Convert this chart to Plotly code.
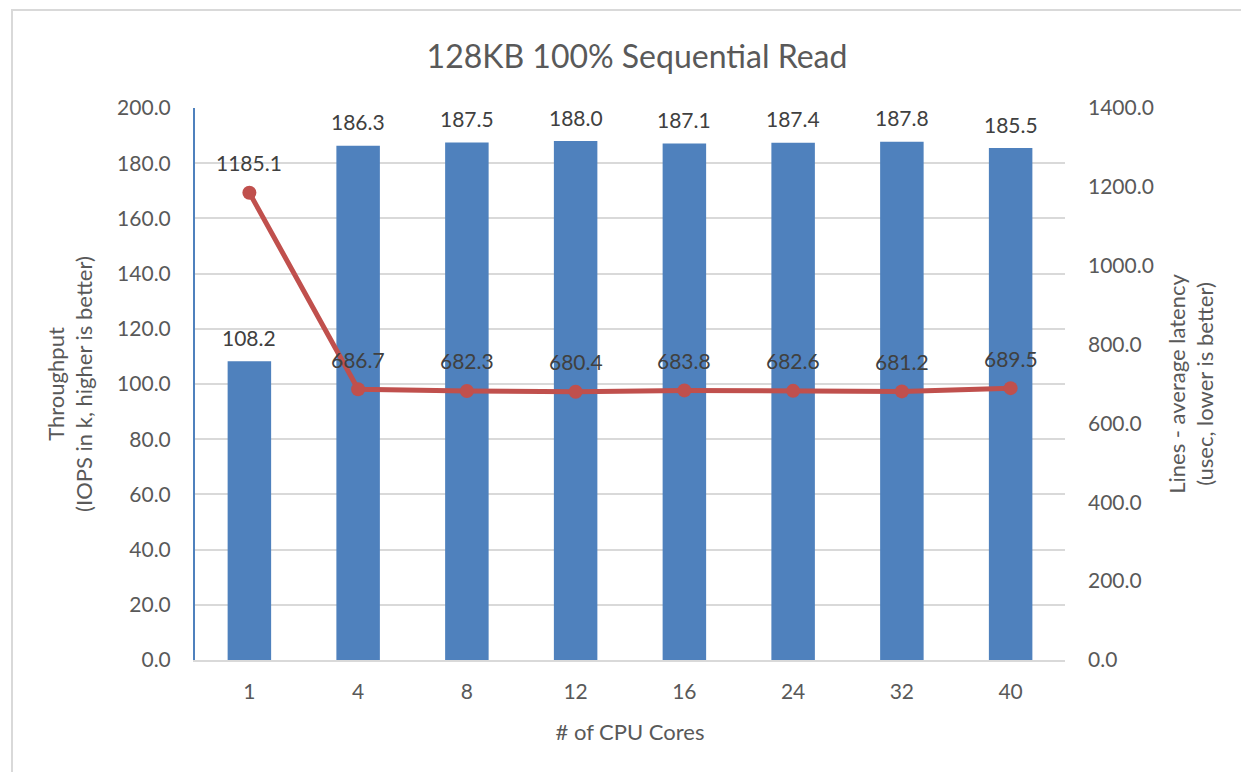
import plotly.graph_objects as go

cores = ["1", "4", "8", "12", "16", "24", "32", "40"]
throughput = [108.2, 186.3, 187.5, 188.0, 187.1, 187.4, 187.8, 185.5]
latency = [1185.1, 686.7, 682.3, 680.4, 683.8, 682.6, 681.2, 689.5]

FONT = "Lato"
GRAY = "#595959"
LBL = "#404040"

fig = go.Figure()
fig.add_trace(go.Bar(x=cores, y=throughput, marker_color="#4F81BD",
                     marker_line_width=0, name="Throughput", yaxis="y"))
fig.add_trace(go.Scatter(x=cores, y=latency, mode="lines+markers", yaxis="y2",
                         line=dict(color="#C0504D", width=5),
                         marker=dict(color="#C0504D", size=14), name="Latency"))

ann = []
for i, v in enumerate(throughput):
    ann.append(dict(x=i, y=v, xref="x", yref="y", text=f"{v:.1f}", showarrow=False,
                    yshift=24, font=dict(family=FONT, size=21, color=LBL)))
for i, v in enumerate(latency):
    ann.append(dict(x=i, y=v, xref="x", yref="y2", text=f"{v:.1f}", showarrow=False,
                    yshift=30, font=dict(family=FONT, size=21, color=LBL)))

# page has an 8px body margin; reference plot area: x 195..1065, y 108..660
L, T, R, B = 187, 100, 1249 - 1057, 772 - 652
W = 1249 - L - R
H = 772 - T - B

fig.update_layout(
    width=1249, height=772,
    margin=dict(l=L, r=R, t=T, b=B, autoexpand=False),
    paper_bgcolor="white", plot_bgcolor="white",
    showlegend=False,
    bargap=0.6,
    font=dict(family=FONT, color=GRAY, size=21),
    title=dict(text="128KB 100% Sequential Read", x=(637 - 8) / 1249, xanchor="center",
               y=1 - (57 - 8) / 772, yanchor="middle",
               font=dict(family=FONT, size=32, color=GRAY)),
    xaxis=dict(type="category", showgrid=False, showline=True, linecolor="#D9D9D9",
               linewidth=2, ticks="", ticklabelstandoff=12,
               tickfont=dict(size=21, color=GRAY),
               title=dict(text="# of CPU Cores", font=dict(size=22, color=GRAY), standoff=22)),
    yaxis=dict(range=[0, 200], dtick=20, tickformat=".1f", showgrid=True,
               gridcolor="#D9D9D9", gridwidth=2, showline=True, linecolor="#4F81BD",
               linewidth=2, zeroline=False, ticks="", ticklabelstandoff=18,
               tickfont=dict(size=21, color=GRAY),
               title=dict(text="Throughput<br>(IOPS in k, higher is better)",
                          font=dict(size=22, color=GRAY), standoff=18)),
    yaxis2=dict(range=[0, 1400], dtick=200, tickformat=".1f", overlaying="y",
                side="right", showgrid=False, showline=False, zeroline=False,
                ticks="", ticklabelstandoff=22, tickfont=dict(size=21, color=GRAY),
                title=dict(text="Lines - average latency<br>(usec, lower is better)",
                           font=dict(size=22, color=GRAY), standoff=16)),
    annotations=ann,
    shapes=[dict(type="rect", xref="paper", yref="paper",
                 x0=(12 - 8 - L) / W, x1=(1270 - L) / W,
                 y0=-0.4, y1=(H + T - (10 - 8)) / H,
                 line=dict(color="#D9D9D9", width=2), layer="below")],
)

fig.write_html("out.html")
